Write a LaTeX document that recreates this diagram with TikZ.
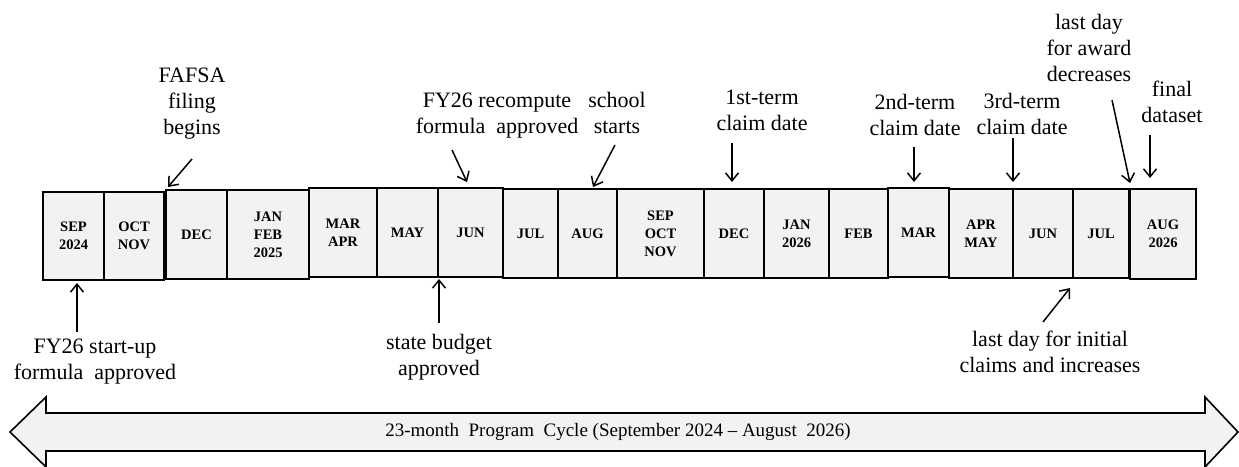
\documentclass[tikz,border=0pt]{standalone}
\usepackage{fontspec}
\setmainfont{Liberation Serif}
\usetikzlibrary{arrows.meta}
\definecolor{boxfill}{HTML}{F2F2F2}
\tikzset{
  mbox/.style={draw=black, line width=1.6pt, fill=boxfill, inner sep=0pt, outer sep=0pt,
    align=center, font=\fontsize{14.5}{18}\selectfont\bfseries},
  lbl/.style={inner sep=0pt, align=center, font=\fontsize{22}{26}\selectfont},
  ann/.style={line width=1.5pt, -{Straight Barb[length=8pt,width=13pt,line width=1.5pt]}},
}
\begin{document}
\begin{tikzpicture}[x=1pt,y=-1pt]
\useasboundingbox (0,0) rectangle (1239,466);
% month boxes
\node[mbox, minimum width=61pt, minimum height=88pt] (b1) at (73.5,236) {SEP\\2024};
\node[mbox, minimum width=60pt, minimum height=88pt] (b2) at (134,236) {OCT\\NOV};
\node[mbox, minimum width=61pt, minimum height=89pt] (b3) at (196.5,234.5) {DEC};
\node[mbox, minimum width=82pt, minimum height=89pt] (b4) at (268,234.5) {JAN\\FEB\\2025};
\node[mbox, minimum width=68pt, minimum height=89pt] (b5) at (343,232.5) {MAR\\APR};
\node[mbox, minimum width=61pt, minimum height=89pt] (b6) at (407.5,232.5) {MAY};
\node[mbox, minimum width=65pt, minimum height=89pt] (b7) at (470.5,232.5) {JUN};
\node[mbox, minimum width=55pt, minimum height=89pt] (b8) at (530.5,233.5) {JUL};
\node[mbox, minimum width=59pt, minimum height=89pt] (b9) at (587.5,233.5) {AUG};
\node[mbox, minimum width=87pt, minimum height=89pt] (b10) at (660.5,233.5) {SEP\\OCT\\NOV};
\node[mbox, minimum width=60pt, minimum height=89pt] (b11) at (734,233.5) {DEC};
\node[mbox, minimum width=65pt, minimum height=89pt] (b12) at (796.5,233.5) {JAN\\2026};
\node[mbox, minimum width=59pt, minimum height=89pt] (b13) at (858.5,233.5) {FEB};
\node[mbox, minimum width=61pt, minimum height=89pt] (b14) at (918.5,232.5) {MAR};
\node[mbox, minimum width=64pt, minimum height=89pt] (b15) at (981,233.5) {APR\\MAY};
\node[mbox, minimum width=60pt, minimum height=89pt] (b16) at (1043,233.5) {JUN};
\node[mbox, minimum width=56pt, minimum height=89pt] (b17) at (1101,233.5) {JUL};
\node[mbox, minimum width=66pt, minimum height=90pt] (b18) at (1163,234) {AUG\\2026};
\draw[line width=3pt] (b17.north east) -- (b17.south east);

% labels above
\node[lbl] (fafsa) at (192,104) {FAFSA\\filing\\begins};
\node[lbl] (recomp) at (497,115.5) {FY26 recompute\\formula\ \ approved};
\node[lbl] (school) at (617,113) {school\\starts};
\node[lbl] (first) at (762,110) {1st-term\\claim date};
\node[lbl] (second) at (915,115) {2nd-term\\claim date};
\node[lbl] (third) at (1022,113.5) {3rd-term\\claim date};
\node[lbl] (lastdec) at (1089,47.5) {last day\\for award\\decreases};
\node[lbl] (final) at (1172,101.5) {final\\dataset};
% labels below
\node[lbl] (startup) at (95,362) {FY26 start-up\\formula\ \ approved};
\node[lbl] (budget) at (439,357.5) {state budget\\approved};
\node[lbl] (initial) at (1050,351.5) {last day for initial\\claims and increases};

% arrow end points
\coordinate (fafsaS) at (192,159);  \coordinate (fafsaE) at (168,187);
\coordinate (recompS) at (452,150); \coordinate (recompE) at (467,182);
\coordinate (schoolS) at (615,145); \coordinate (schoolE) at (593,187);
\coordinate (firstS) at (732,143);  \coordinate (firstE) at (732,182);
\coordinate (secondS) at (914,147); \coordinate (secondE) at (914,182);
\coordinate (thirdS) at (1013,138); \coordinate (thirdE) at (1013,182);
\coordinate (lastdecS) at (1112,100); \coordinate (lastdecE) at (1130,183);
\coordinate (finalS) at (1150,135); \coordinate (finalE) at (1150,178);
\coordinate (startupS) at (77,332); \coordinate (startupE) at (77,283);
\coordinate (budgetS) at (439,323);  \coordinate (budgetE) at (439,279);
\coordinate (initialS) at (1043,322); \coordinate (initialE) at (1070,288);

\draw[ann] (fafsaS) -- (fafsaE);
\draw[ann] (recompS) -- (recompE);
\draw[ann] (schoolS) -- (schoolE);
\draw[ann] (firstS) -- (firstE);
\draw[ann] (secondS) -- (secondE);
\draw[ann] (thirdS) -- (thirdE);
\draw[ann] (lastdecS) -- (lastdecE);
\draw[ann] (finalS) -- (finalE);
\draw[ann] (startupS) -- (startupE);
\draw[ann] (budgetS) -- (budgetE);
\draw[ann] (initialS) -- (initialE);

% program cycle double arrow
\draw[line width=1.6pt, fill=boxfill, line join=miter]
  (10,432) -- (46,397) -- (46,413) -- (1205,413) -- (1205,397) -- (1238,432)
  -- (1205,467) -- (1205,451) -- (46,451) -- (46,467) -- cycle;
\node[inner sep=0pt, font=\fontsize{19}{22}\selectfont] (cycle) at (618,432)
  {23-month\ \ Program\ \ Cycle (September 2024 -- August\ \ 2026)};
\end{tikzpicture}
\end{document}
